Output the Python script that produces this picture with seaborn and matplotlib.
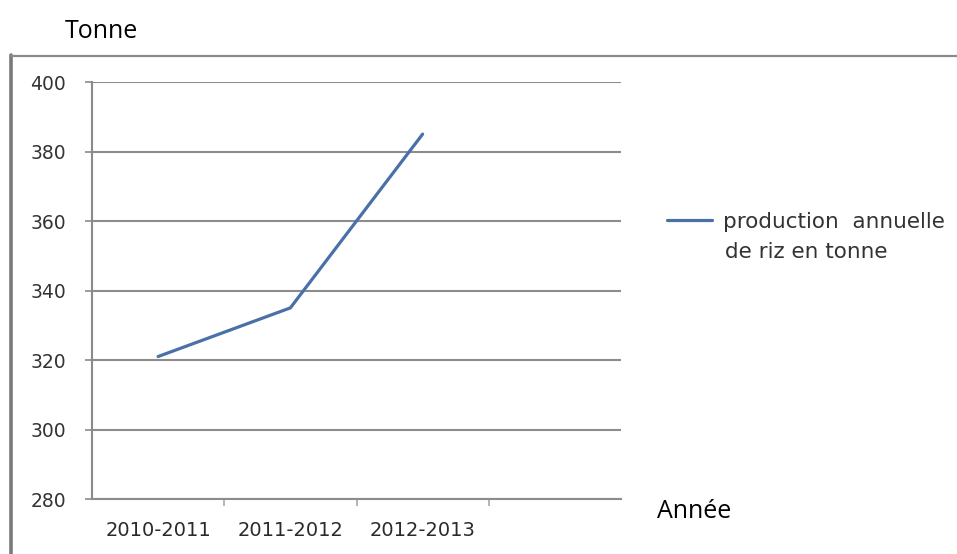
import matplotlib
matplotlib.use("Agg")
import matplotlib.pyplot as plt
import seaborn as sns
import pandas as pd

categories = ["2010-2011", "2011-2012", "2012-2013"]
production = [321, 335, 385]
y_ticks = [280, 300, 320, 340, 360, 380, 400]
series_label_line1 = "production  annuelle"
series_label_line2 = "de riz en tonne"

sns.set_theme(style="white")
plt.rcParams['font.family'] = ['DejaVu Sans']

df = pd.DataFrame({"annee": categories, "production": production})

fig = plt.figure(figsize=(9.57, 5.54), dpi=100)
fig.patch.set_facecolor("white")

# outer frame of the chart
fig.add_artist(plt.Line2D([10.5 / 957, 10.5 / 957], [0, 1 - 55 / 554],
                          transform=fig.transFigure, color="#7a7a7a", lw=2.6, zorder=-5))
fig.add_artist(plt.Line2D([10 / 957, 1.0], [1 - 56 / 554, 1 - 56 / 554],
                          transform=fig.transFigure, color="#8a8a8a", lw=1.6, zorder=-5))

ax = fig.add_axes([92 / 957, 1 - 499 / 554, (621 - 92) / 957, (499 - 82) / 554])
ax.set_facecolor("none")
ax.set_zorder(5)

sns.lineplot(data=df, x="annee", y="production", ax=ax, color="#4a70a8",
             linewidth=2.3, label=series_label_line1, sort=False)

ax.set_xlim(-0.5, 3.5)
ax.set_ylim(280, 400)
ax.set_yticks(y_ticks)
ax.set_yticklabels([str(v) for v in y_ticks], fontsize=13.5, color="#333333")
ax.set_xticks(range(len(categories)))
ax.set_xticklabels(categories, fontsize=14, color="#2a2a2a")
ax.tick_params(axis="x", length=0, pad=16)
ax.tick_params(axis="y", length=5, width=1.2, color="#8a8a8a", pad=13.5, left=True)
ax.set_xticks([0.5, 1.5, 2.5], minor=True)
ax.tick_params(axis="x", which="minor", length=5, width=1.2, color="#a8a8a8", bottom=True)

ax.grid(axis="y", color="#8c8c8c", linewidth=1.5)
ax.set_axisbelow(True)
for s in ["top", "right"]:
    ax.spines[s].set_visible(False)
ax.spines["left"].set_color("#8a8a8a")
ax.spines["left"].set_linewidth(1.5)
ax.spines["bottom"].set_color("#8c8c8c")
ax.spines["bottom"].set_linewidth(1.5)
ax.set_xlabel("")
ax.set_ylabel("")

leg = ax.legend(loc="center left", bbox_to_anchor=(667 / 957, 1 - 222 / 554),
                bbox_transform=fig.transFigure, frameon=False, fontsize=15.5,
                handlelength=2.1, handletextpad=0.5, borderaxespad=0, borderpad=0)
for t in leg.get_texts():
    t.set_color("#333333")
fig.text(725 / 957, 1 - 252 / 554, series_label_line2, fontsize=15.5, color="#333333",
         va="center", ha="left")

fig.text(65 / 957, 1 - 31 / 554, "Tonne", fontsize=18, family=["Open Sans", "DejaVu Sans"],
         color="black", va="center", ha="left")
fig.text(657 / 957, 1 - 511 / 554, "Année", fontsize=18, family=["Open Sans", "DejaVu Sans"],
         color="black", va="center", ha="left")

fig.savefig("out.png", dpi=100, facecolor="white")
